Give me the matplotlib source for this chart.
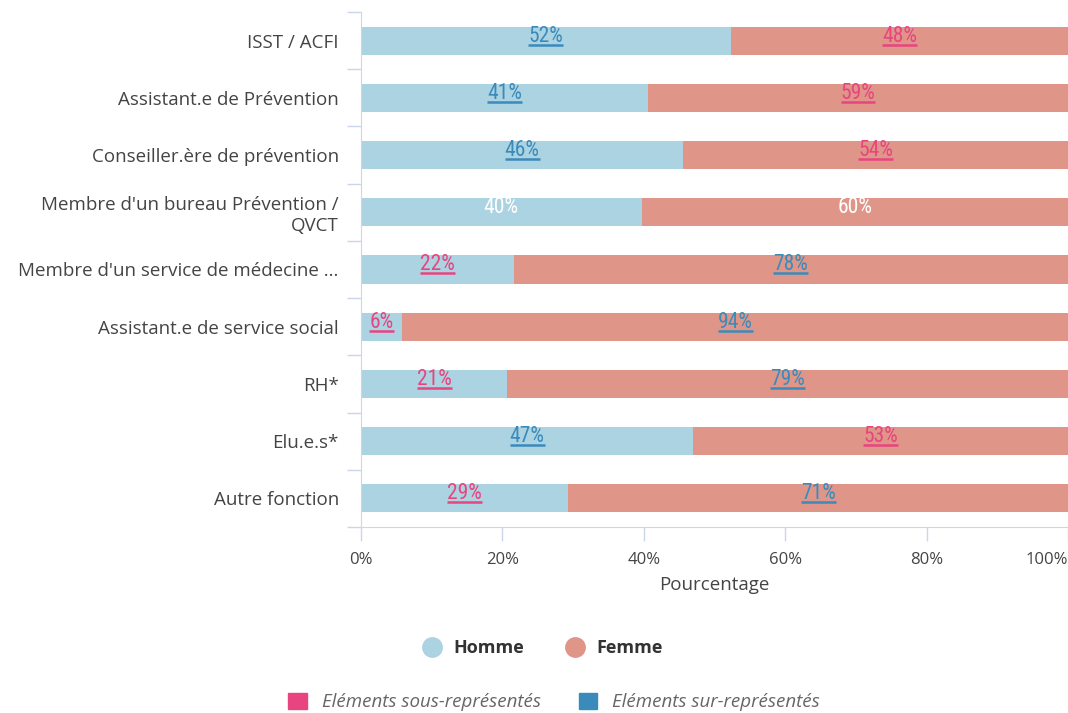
import numpy as np
import matplotlib.pyplot as plt
from matplotlib.lines import Line2D
from matplotlib.patches import Patch

categories = ["ISST / ACFI", "Assistant.e de Prévention", "Conseiller.ère de prévention",
              "Membre d'un bureau Prévention /\nQVCT", "Membre d'un service de médecine ...",
              "Assistant.e de service social", "RH*", "Elu.e.s*", "Autre fonction"]
homme = [52.3, 40.6, 45.6, 39.7, 21.6, 5.8, 20.7, 47.0, 29.3]
femme = [47.7, 59.4, 54.4, 60.3, 78.4, 94.2, 79.3, 53.0, 70.7]
# statut de représentation : 'sur', 'sous' ou None
statut_homme = ['sur', 'sur', 'sur', None, 'sous', 'sous', 'sous', 'sur', 'sous']
statut_femme = ['sous', 'sous', 'sous', None, 'sur', 'sur', 'sur', 'sous', 'sur']
xticks = [0, 20, 40, 60, 80, 100]

C_HOMME = '#acd3e1'
C_FEMME = '#df9689'
C_SOUS = '#e8447f'
C_SUR = '#3a8bbb'
C_AXE = '#ccd6eb'
C_TXT = '#444444'

plt.rcParams['font.family'] = ['Open Sans', 'DejaVu Sans']

fig = plt.figure(figsize=(10.68, 7.13), dpi=100)
ax = fig.add_axes([361 / 1068, 1 - 527 / 713, 707 / 1068, 515 / 713])

y = np.arange(len(categories))
ax.barh(y, homme, height=0.49, color=C_HOMME)
ax.barh(y, femme, left=homme, height=0.49, color=C_FEMME)

ax.set_xlim(0, 100)
ax.set_ylim(len(categories) - 0.5, -0.5)

for s in ['top', 'right']:
    ax.spines[s].set_visible(False)
ax.spines['left'].set_color(C_AXE)
ax.spines['bottom'].set_color(C_AXE)

ax.set_xticks(xticks)
ax.set_xticklabels([f"{v}%" for v in xticks], fontsize=12, color=C_TXT)
ax.get_xticklabels()[-1].set_horizontalalignment('right')
ax.tick_params(axis='x', length=10, width=1, color=C_AXE, pad=8)
ax.set_yticks(y)
ax.set_yticklabels(categories, fontsize=13.5, color=C_TXT)
ax.tick_params(axis='y', length=0, pad=16)
ax.set_yticks(np.arange(-0.5, len(categories)), minor=True)
ax.tick_params(axis='y', which='minor', length=10, width=1, color=C_AXE)
ax.set_xlabel("Pourcentage", fontsize=13.5, color=C_TXT, labelpad=6)

couleurs = {'sur': C_SUR, 'sous': C_SOUS, None: 'white'}
labels = []
for i in range(len(categories)):
    for x0, w, st in [(0, homme[i], statut_homme[i]), (homme[i], femme[i], statut_femme[i])]:
        t = ax.text(x0 + w / 2, i - 0.08, f"{round(w)}%", ha='center', va='center',
                    fontsize=15.5, color=couleurs[st], fontweight='normal',
                    family=['Roboto Condensed', 'Roboto', 'DejaVu Sans'])
        labels.append((t, st))

fig.canvas.draw()
r = fig.canvas.get_renderer()
inv = ax.transData.inverted()
for t, st in labels:
    if st is None:
        continue
    bb = t.get_window_extent(r)
    (xa, ya), (xb, _) = inv.transform([(bb.x0, bb.y0 + 2), (bb.x1, bb.y0 + 2)])
    ax.plot([xa, xb], [ya, ya], color=couleurs[st], lw=1.8, solid_capstyle='butt')

h1 = [Line2D([], [], marker='o', ls='', ms=14, color=C_HOMME),
      Line2D([], [], marker='o', ls='', ms=14, color=C_FEMME)]
fig.legend(h1, ['Homme', 'Femme'], ncol=2, loc='center', bbox_to_anchor=(0.504, 1 - 648 / 713),
           frameon=False, prop={'weight': 'bold', 'size': 13}, handletextpad=0.2,
           columnspacing=1.8, labelcolor='#333333')
h2 = [Patch(color=C_SOUS), Patch(color=C_SUR)]
fig.legend(h2, ['Eléments sous-représentés', 'Eléments sur-représentés'], ncol=2, loc='center',
           bbox_to_anchor=(0.519, 1 - 702 / 713), frameon=False,
           prop={'style': 'italic', 'size': 13.5}, labelcolor='#666666',
           handlelength=1.0, handleheight=1.0, handletextpad=0.8, columnspacing=2.0)

fig.savefig('out.png', dpi=100)
